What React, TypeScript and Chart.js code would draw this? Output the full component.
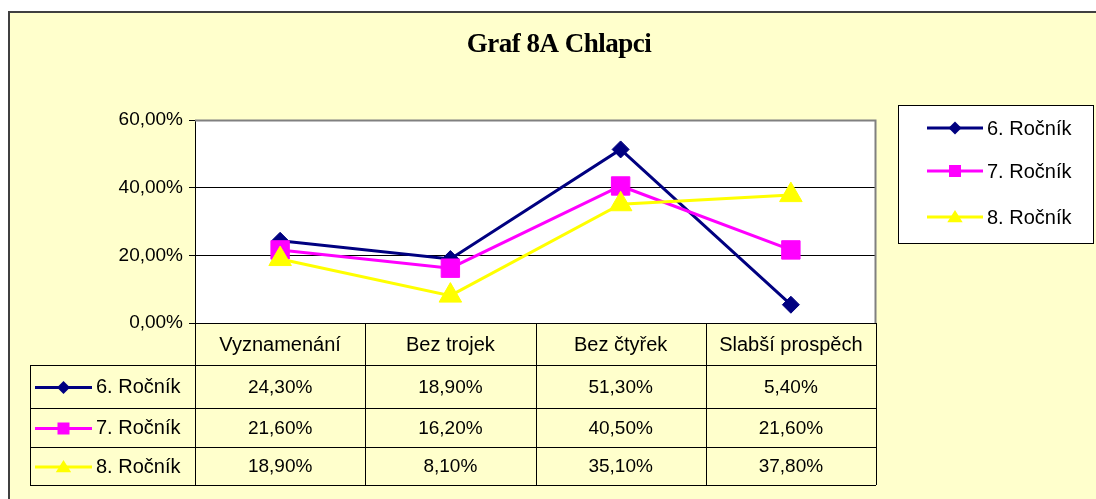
import React, { useEffect, useRef } from "react";
import { Chart, registerables } from "chart.js";

Chart.register(...registerables);

const categories = ["Vyznamenání", "Bez trojek", "Bez čtyřek", "Slabší prospěch"];
const seriesNames = ["6. Ročník", "7. Ročník", "8. Ročník"];
const grade6 = [24.3, 18.9, 51.3, 5.4];
const grade7 = [21.6, 16.2, 40.5, 21.6];
const grade8 = [18.9, 8.1, 35.1, 37.8];
const yTicks = [0, 20, 40, 60];
const titleText = "Graf 8A Chlapci";

const colors = ["#000080", "#FF00FF", "#FFFF00"];
const markers = ["rectRot", "rect", "triangle"];
const seriesValues = [grade6, grade7, grade8];

const BG = "#FFFFCC";
const FONT = '"Liberation Sans", Arial, sans-serif';

const fmt = (v: number) => v.toFixed(2).replace(".", ",") + "%";

function drawMarker(ctx: CanvasRenderingContext2D, kind: string, x: number, y: number, s: number, color: string) {
  ctx.save();
  ctx.fillStyle = color;
  ctx.beginPath();
  if (kind === "rectRot") {
    ctx.moveTo(x - s, y);
    ctx.lineTo(x, y - s);
    ctx.lineTo(x + s, y);
    ctx.lineTo(x, y + s);
  } else if (kind === "rect") {
    ctx.rect(x - s, y - s, 2 * s, 2 * s);
  } else {
    ctx.moveTo(x, y - s);
    ctx.lineTo(x + s * 1.1, y + s * 0.75);
    ctx.lineTo(x - s * 1.1, y + s * 0.75);
  }
  ctx.closePath();
  ctx.fill();
  ctx.restore();
}

function drawKey(ctx: CanvasRenderingContext2D, i: number, x1: number, x2: number, y: number) {
  ctx.save();
  ctx.strokeStyle = colors[i];
  ctx.lineWidth = 3;
  ctx.beginPath();
  ctx.moveTo(x1, y);
  ctx.lineTo(x2, y);
  ctx.stroke();
  ctx.restore();
  const sizes = [6.5, 6, 7];
  drawMarker(ctx, markers[i], (x1 + x2) / 2, y, sizes[i], colors[i]);
}

const decorPlugin = {
  id: "decor",
  beforeDraw(chart: any) {
    const { ctx, chartArea, width, height } = chart;
    ctx.save();
    ctx.fillStyle = "#FFFFFF";
    ctx.fillRect(0, 0, width, height);
    ctx.fillStyle = BG;
    ctx.fillRect(8, 11, width, height);
    ctx.strokeStyle = "#404040";
    ctx.lineWidth = 2;
    ctx.beginPath();
    ctx.moveTo(9, height + 5);
    ctx.lineTo(9, 12);
    ctx.lineTo(width + 5, 12);
    ctx.stroke();
    ctx.fillStyle = "#FFFFFF";
    ctx.fillRect(chartArea.left, chartArea.top, chartArea.right - chartArea.left, chartArea.bottom - chartArea.top);
    ctx.fillStyle = "#000";
    ctx.font = 'bold 27px "Liberation Serif", "Times New Roman", serif';
    try {
      (ctx as any).letterSpacing = "-0.5px";
    } catch (e) {}
    ctx.textAlign = "center";
    ctx.textBaseline = "middle";
    ctx.fillText(titleText, 559, 45);
    try {
      (ctx as any).letterSpacing = "0px";
    } catch (e) {}
    ctx.restore();
  },
  afterDraw(chart: any) {
    const { ctx, chartArea } = chart;
    const L = chartArea.left;
    const R = chartArea.right;
    const T = chartArea.top;
    const B = chartArea.bottom;
    const n = categories.length;
    const cw = (R - L) / n;
    ctx.save();
    // plot border top/right
    ctx.strokeStyle = "#808080";
    ctx.lineWidth = 2;
    ctx.beginPath();
    ctx.moveTo(L, T + 0.5);
    ctx.lineTo(R - 0.5, T + 0.5);
    ctx.lineTo(R - 0.5, B);
    ctx.stroke();

    // data table
    const rowLines = [B + 42, B + 85, B + 124, B + 162];
    const tableLeft = 30;
    ctx.strokeStyle = "#000";
    ctx.lineWidth = 1;
    ctx.beginPath();
    for (let i = 0; i <= n; i++) {
      const x = Math.round(L + i * cw) + 0.5;
      ctx.moveTo(x, B);
      ctx.lineTo(x, rowLines[3]);
    }
    for (const y of rowLines) {
      ctx.moveTo(tableLeft, y + 0.5);
      ctx.lineTo(R, y + 0.5);
    }
    ctx.moveTo(tableLeft + 0.5, rowLines[0]);
    ctx.lineTo(tableLeft + 0.5, rowLines[3]);
    ctx.stroke();

    ctx.fillStyle = "#000";
    ctx.textAlign = "center";
    ctx.textBaseline = "middle";
    const xs = chart.scales.x;
    for (let i = 0; i < n; i++) {
      const cx = xs.getPixelForValue(i);
      ctx.font = "20px " + FONT;
      ctx.fillText(categories[i], cx, (B + rowLines[0]) / 2 + 1);
      ctx.font = "19px " + FONT;
      for (let s = 0; s < seriesNames.length; s++) {
        const cy = (rowLines[s] + rowLines[s + 1]) / 2 + 1;
        ctx.fillText(fmt(seriesValues[s][i]), cx, cy);
      }
    }
    ctx.font = "20px " + FONT;
    for (let s = 0; s < seriesNames.length; s++) {
      const cy = (rowLines[s] + rowLines[s + 1]) / 2 + 1;
      drawKey(ctx, s, 35, 92, cy);
      ctx.fillStyle = "#000";
      ctx.textAlign = "left";
      ctx.fillText(seriesNames[s], 96, cy);
    }

    // legend
    ctx.fillStyle = "#FFFFFF";
    ctx.fillRect(898, 105, 195, 138);
    ctx.strokeStyle = "#000";
    ctx.lineWidth = 1;
    ctx.strokeRect(898.5, 105.5, 195, 138);
    const ly = [128, 171, 217];
    for (let s = 0; s < seriesNames.length; s++) {
      drawKey(ctx, s, 927, 983, ly[s]);
      ctx.fillStyle = "#000";
      ctx.textAlign = "left";
      ctx.fillText(seriesNames[s], 987, ly[s] + 1);
    }
    ctx.restore();
  },
};

export default function App() {
  const ref = useRef<HTMLCanvasElement>(null);
  useEffect(() => {
    document.body.style.margin = "0";
    document.body.style.overflow = "hidden";
    const canvas = ref.current!;
    const chart = new Chart(canvas, {
      type: "line",
      data: {
        labels: categories,
        datasets: seriesNames.map((name, i) => ({
          label: name,
          data: seriesValues[i],
          borderColor: colors[i],
          backgroundColor: colors[i],
          borderWidth: 3,
          pointStyle: markers[i] as any,
          pointRadius: [8.5, 13, 13][i],
          pointBorderWidth: 1,
          pointBorderColor: colors[i],
          pointBackgroundColor: colors[i],
          tension: 0,
          order: 3 - i,
        })),
      },
      options: {
        responsive: false,
        animation: false,
        devicePixelRatio: 1,
        layout: { padding: { top: 120, right: 220, bottom: 176, left: 0 } },
        plugins: {
          legend: { display: false },
          title: { display: false },
          tooltip: { enabled: false },
        },
        scales: {
          x: { type: "category", offset: true, display: false },
          y: {
            min: 0,
            max: 60,
            afterFit: (scale: any) => {
              scale.width = 195;
            },
            afterBuildTicks: (scale: any) => {
              scale.ticks = yTicks.map((v) => ({ value: v }));
            },
            ticks: {
              callback: (v: any) => fmt(Number(v)),
              color: "#000",
              font: { family: FONT, size: 19 },
              padding: 6,
            },
            grid: {
              color: (c: any) => (c.tick && c.tick.value === 60 ? "rgba(0,0,0,0)" : "#000"),
              tickColor: "#000",
              tickLength: 6,
              lineWidth: 1,
            },
            border: { display: true, color: "#000", width: 1 },
          },
        },
      },
      plugins: [decorPlugin],
    });
    return () => chart.destroy();
  }, []);
  return <canvas ref={ref} width={1096} height={499} style={{ display: "block" }} />;
}
